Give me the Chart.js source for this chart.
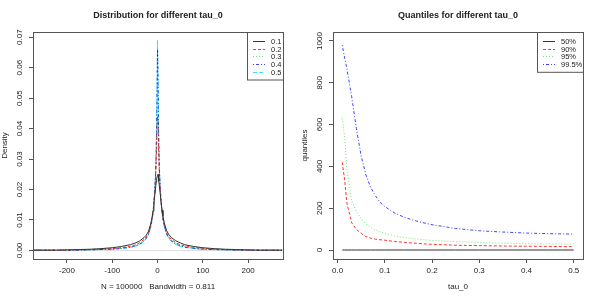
<!DOCTYPE html>
<html lang="en">
<head>
  <meta charset="UTF-8">
  <title>tau_0 plots</title>
  <script src="https://cdn.jsdelivr.net/npm/chart.js"></script>
  <style>
    body { margin: 0; background: #fff; }
    #wrap { position: relative; width: 600px; height: 300px; }
    canvas { position: absolute; top: 0; }
  </style>
</head>
<body>
  <div id="wrap">
    <canvas id="dens" width="300" height="300" style="left:0"></canvas>
    <canvas id="quant" width="300" height="300" style="left:300px"></canvas>
  </div>

  <script>
    // left panel: density estimates, one per tau_0
    const xs = [-275,-250,-225,-200,-175,-150,-125,-100,-80,-60,-50,-40,-30,-25,-20,-15,-12,-10,-8,-6,-4,-3,-2,-1,0,1,2,3,4,6,8,10,12,15,20,25,30,40,50,60,80,100,125,150,175,200,225,250,275];
    const tauLabels = ["0.1", "0.2", "0.3", "0.4", "0.5"];
    const d01 = [0.0001,0.0001,0.0001,0.0002,0.0003,0.0004,0.0006,0.0009,0.0013,0.0019,0.0024,0.0031,0.0042,0.005,0.0063,0.0088,0.011,0.013,0.0155,0.0183,0.021,0.0224,0.0236,0.0243,0.0246,0.025,0.0244,0.0228,0.0212,0.0185,0.0157,0.0132,0.0112,0.009,0.0065,0.0052,0.0043,0.0032,0.0025,0.0019,0.0013,0.0009,0.0006,0.0004,0.0003,0.0002,0.0001,0.0001,0.0001];
    const d02 = [0.0001,0.0001,0.0001,0.0001,0.0002,0.0003,0.0004,0.0006,0.0009,0.0014,0.0018,0.0025,0.0036,0.0045,0.0058,0.0082,0.0105,0.0127,0.0156,0.0195,0.025,0.029,0.034,0.04,0.044,0.041,0.035,0.0295,0.0252,0.0196,0.0157,0.0128,0.0106,0.0083,0.0059,0.0046,0.0037,0.0026,0.0019,0.0015,0.001,0.0007,0.0004,0.0003,0.0002,0.0001,0.0001,0.0001,0.0001];
    const d03 = [0.0001,0.0001,0.0001,0.0001,0.0001,0.0002,0.0003,0.0005,0.0008,0.0012,0.0016,0.0022,0.0033,0.0042,0.0055,0.008,0.0103,0.0125,0.0155,0.0197,0.026,0.031,0.038,0.047,0.055,0.049,0.039,0.0315,0.0262,0.0198,0.0156,0.0126,0.0104,0.0081,0.0056,0.0043,0.0034,0.0023,0.0017,0.0013,0.0008,0.0005,0.0003,0.0002,0.0001,0.0001,0.0001,0.0001,0.0001];
    const d04 = [0.0001,0.0001,0.0001,0.0001,0.0001,0.0002,0.0003,0.0004,0.0007,0.0011,0.0014,0.002,0.0031,0.004,0.0053,0.0078,0.0101,0.0123,0.0154,0.0198,0.027,0.033,0.041,0.053,0.066,0.056,0.042,0.0335,0.0272,0.02,0.0155,0.0124,0.0102,0.0079,0.0054,0.0041,0.0032,0.0021,0.0015,0.0011,0.0007,0.0004,0.0003,0.0002,0.0001,0.0001,0.0001,0.0001,0.0001];
    const d05 = [0.0001,0.0001,0.0001,0.0001,0.0001,0.0002,0.0003,0.0004,0.0006,0.001,0.0013,0.0019,0.003,0.0039,0.0052,0.0077,0.01,0.0122,0.0153,0.0199,0.0275,0.034,0.043,0.056,0.069,0.058,0.044,0.0345,0.0278,0.0201,0.0154,0.0123,0.0101,0.0078,0.0053,0.004,0.0031,0.002,0.0014,0.001,0.0006,0.0004,0.0003,0.0002,0.0001,0.0001,0.0001,0.0001,0.0001];

    // right panel: quantiles against tau_0
    const taus = [0.01,0.015,0.02,0.03,0.04,0.05,0.06,0.07,0.08,0.09,0.10,0.12,0.14,0.16,0.18,0.20,0.25,0.30,0.35,0.40,0.45,0.50];
    const qLabels = ["50%", "90%", "95%", "99.5%"];
    const q50 = [0,0,0,0,0,0,0,0,0,0,0,0,0,0,0,0,0,0,0,0,0,0];
    const q90 = [420,335,222,130,98,80,64,57,52,49,47,41,37,33,30,27,23,21,19,18,17,16];
    const q95 = [630,540,380,235,185,150,124,108,96,87,80,68,60,54,50,46,40,36,33,31,29,28];
    const q995 = [980,920,865,733,580,450,360,300,260,228,208,178,158,143,131,121,103,92,86,81,78,76];

    const cols = ["#333", "rgba(255,0,0,0.8)", "rgba(0,205,0,0.55)", "rgba(0,0,255,0.75)", "rgba(0,220,255,0.8)"];
    const dashes = [[], [3, 2], [1, 2], [1, 2, 3, 2], [4, 2]];
    const FONT = "'Liberation Sans', Arial, sans-serif";
    const INK = "#222";

    function pts(x, y) { return x.map((v, i) => ({ x: v, y: y[i] })); }

    function sets(labels, series, xv) {
      return series.map((s, i) => ({
        label: labels[i], data: pts(xv, s),
        borderColor: cols[i], borderDash: dashes[i], borderWidth: 1,
        pointRadius: 0, tension: 0, fill: false
      }));
    }

    // R style decorations: box, rotated y labels, titles, legend
    function rStyle(o) {
      return {
        id: 'rstyle',
        beforeDatasetsDraw(chart) {
          if (!o.zeroLine) return;
          const a = chart.chartArea, ctx = chart.ctx;
          const y = chart.scales.y.getPixelForValue(0);
          ctx.save();
          ctx.strokeStyle = "#ddd"; ctx.lineWidth = 1;
          ctx.beginPath(); ctx.moveTo(a.left, Math.round(y) + 0.5); ctx.lineTo(a.right, Math.round(y) + 0.5); ctx.stroke();
          ctx.restore();
        },
        afterDraw(chart) {
          const ctx = chart.ctx, a = chart.chartArea;
          const sx = chart.scales.x, sy = chart.scales.y;
          ctx.save();
          ctx.strokeStyle = "#555"; ctx.lineWidth = 1;
          ctx.strokeRect(a.left + 0.5, a.top + 0.5, a.right - a.left, a.bottom - a.top);

          ctx.fillStyle = INK;
          ctx.font = "8px " + FONT;
          ctx.textAlign = "center"; ctx.textBaseline = "middle";
          sx.ticks.forEach(t => {
            ctx.fillText(o.fx(t.value), sx.getPixelForValue(t.value), a.bottom + 12);
          });
          sy.ticks.forEach(t => {
            ctx.save();
            ctx.translate(a.left - 13, sy.getPixelForValue(t.value));
            ctx.rotate(-Math.PI / 2);
            ctx.fillText(o.fy(t.value), 0, 0);
            ctx.restore();
          });

          ctx.fillText(o.xTitle, (a.left + a.right) / 2, a.bottom + 28);
          ctx.save();
          ctx.translate(a.left - 28, (a.top + a.bottom) / 2);
          ctx.rotate(-Math.PI / 2);
          ctx.fillText(o.yTitle, 0, 0);
          ctx.restore();

          ctx.font = "bold 9px " + FONT;
          ctx.fillText(o.title, (a.left + a.right) / 2, 16);

          // legend in the top right corner
          const ds = chart.data.datasets;
          const lx = a.right - o.legW, ly = a.top, lh = 9 + ds.length * 7.7;
          ctx.fillStyle = "#fff";
          ctx.fillRect(lx, ly, o.legW, lh);
          ctx.strokeStyle = "#555";
          ctx.strokeRect(lx + 0.5, ly + 0.5, o.legW, lh);
          ctx.font = "7.5px " + FONT;
          ctx.textAlign = "left";
          ds.forEach((d, i) => {
            const y = Math.round(ly + 9 + i * 7.7) + 0.5;
            ctx.strokeStyle = d.borderColor;
            ctx.setLineDash(d.borderDash);
            ctx.beginPath(); ctx.moveTo(lx + 6, y); ctx.lineTo(lx + 18, y); ctx.stroke();
            ctx.setLineDash([]);
            ctx.fillStyle = INK;
            ctx.fillText(d.label, lx + 24, y);
          });
          ctx.restore();
        }
      };
    }

    function axis(min, max, step, size, horiz) {
      return {
        type: 'linear', min: min, max: max,
        grid: { drawOnChartArea: false, drawTicks: true, tickLength: 4, color: "#555" },
        border: { display: true, color: "#555" },
        ticks: { stepSize: step, includeBounds: false, display: false },
        afterFit(s) { if (horiz) s.height = size; else s.width = size; }
      };
    }

    function base(plug, xa, ya, datasets) {
      return {
        type: 'line',
        data: { datasets: datasets },
        options: {
          responsive: false, animation: false, devicePixelRatio: 1,
          layout: { padding: { top: 32, right: 17, left: 0, bottom: 0 } },
          plugins: { legend: { display: false }, tooltip: { enabled: false } },
          scales: { x: xa, y: ya }
        },
        plugins: [plug]
      };
    }

    new Chart(document.getElementById("dens"), base(
      rStyle({
        title: "Distribution for different tau_0", xTitle: "N = 100000   Bandwidth = 0.811", yTitle: "Density",
        fx: v => String(v), fy: v => v.toFixed(2), legW: 36, zeroLine: true
      }),
      axis(-275, 277, 100, 41, true),
      axis(-0.0028, 0.0717, 0.01, 33, false),
      sets(tauLabels, [d01, d02, d03, d04, d05], xs)
    ));

    new Chart(document.getElementById("quant"), base(
      rStyle({
        title: "Quantiles for different tau_0", xTitle: "tau_0", yTitle: "quantiles",
        fx: v => v.toFixed(1), fy: v => String(v), legW: 46, zeroLine: false
      }),
      axis(-0.0096, 0.5196, 0.1, 41, true),
      axis(-43, 1043, 200, 33, false),
      sets(qLabels, [q50, q90, q95, q995], taus)
    ));
  </script>
</body>
</html>
